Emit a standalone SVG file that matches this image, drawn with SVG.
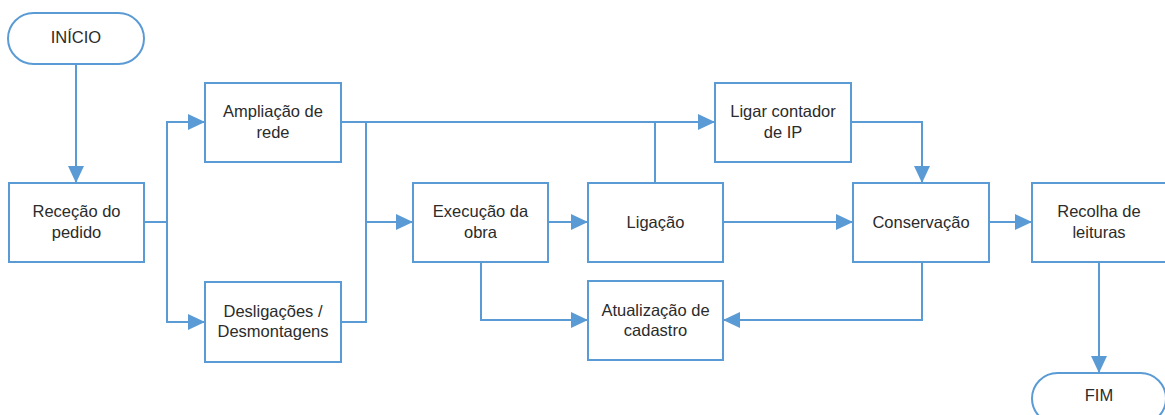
<svg xmlns="http://www.w3.org/2000/svg" width="1165" height="415" viewBox="0 0 1165 415">
<style>
.box{fill:#fff;stroke:#5B9BD5;stroke-width:2}
.t{font-family:"Liberation Sans",Arial,sans-serif;font-size:16.5px;fill:#2b2b2b;text-anchor:middle}
.c{fill:none;stroke:#5B9BD5;stroke-width:2}
</style>
<defs>
<marker id="ah" markerUnits="userSpaceOnUse" markerWidth="18" markerHeight="18" refX="17" refY="8" orient="auto">
<path d="M0,0 L17,8 L0,16 z" fill="#5B9BD5"/>
</marker>
</defs>
<rect width="1165" height="415" fill="#fff"/>
<g id="connectors">
<path class="c" d="M76,64 V183" marker-end="url(#ah)"/>
<path class="c" d="M144,222 H167 V122 H205" marker-end="url(#ah)"/>
<path class="c" d="M167,222 V322 H205" marker-end="url(#ah)"/>
<path class="c" d="M341,122 H715" marker-end="url(#ah)"/>
<path class="c" d="M366,122 V222 H413" marker-end="url(#ah)"/>
<path class="c" d="M341,322 H366 V222"/>
<path class="c" d="M548,222 H588" marker-end="url(#ah)"/>
<path class="c" d="M655,183 V122"/>
<path class="c" d="M481,262 V320 H588" marker-end="url(#ah)"/>
<path class="c" d="M851,122 H922 V183" marker-end="url(#ah)"/>
<path class="c" d="M723,222 H853" marker-end="url(#ah)"/>
<path class="c" d="M989,222 H1032" marker-end="url(#ah)"/>
<path class="c" d="M922,262 V320 H723" marker-end="url(#ah)"/>
<path class="c" d="M1099,262 V373" marker-end="url(#ah)"/>
</g>
<g id="inicio">
<rect class="box" x="8" y="13" width="136" height="51" rx="25.5"/>
<text class="t" x="76" y="43">INÍCIO</text>
</g>
<g id="rececao">
<rect class="box" x="9" y="183" width="135" height="79"/>
<text class="t" x="76.5" y="217">Receção do</text>
<text class="t" x="76.5" y="238">pedido</text>
</g>
<g id="ampliacao">
<rect class="box" x="205" y="83" width="136" height="79"/>
<text class="t" x="273" y="117">Ampliação de</text>
<text class="t" x="273" y="138">rede</text>
</g>
<g id="desligacoes">
<rect class="box" x="205" y="282" width="136" height="80"/>
<text class="t" x="273" y="317">Desligações /</text>
<text class="t" x="273" y="337">Desmontagens</text>
</g>
<g id="execucao">
<rect class="box" x="413" y="183" width="135" height="79"/>
<text class="t" x="480.5" y="217">Execução da</text>
<text class="t" x="480.5" y="238">obra</text>
</g>
<g id="ligacao">
<rect class="box" x="588" y="183" width="135" height="79"/>
<text class="t" x="655.5" y="228">Ligação</text>
</g>
<g id="atualizacao">
<rect class="box" x="588" y="281" width="135" height="79"/>
<text class="t" x="655.5" y="316">Atualização de</text>
<text class="t" x="655.5" y="336">cadastro</text>
</g>
<g id="ligar-contador">
<rect class="box" x="715" y="83" width="136" height="79"/>
<text class="t" x="783" y="117">Ligar contador</text>
<text class="t" x="783" y="138">de IP</text>
</g>
<g id="conservacao">
<rect class="box" x="853" y="183" width="136" height="79"/>
<text class="t" x="921" y="228">Conservação</text>
</g>
<g id="recolha">
<rect class="box" x="1032" y="183" width="135" height="79"/>
<text class="t" x="1099" y="217">Recolha de</text>
<text class="t" x="1099" y="238">leituras</text>
</g>
<g id="fim">
<rect class="box" x="1032" y="373" width="134" height="51" rx="25.5"/>
<text class="t" x="1099" y="401">FIM</text>
</g>
</svg>
